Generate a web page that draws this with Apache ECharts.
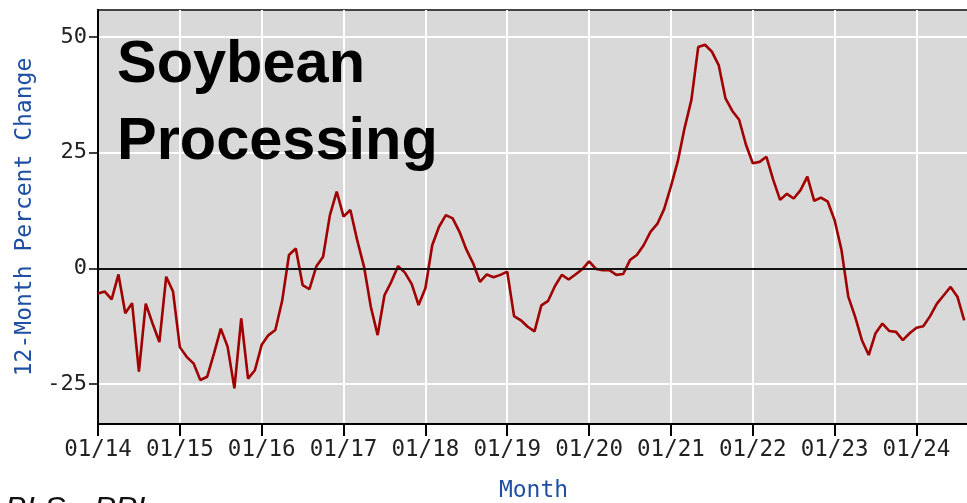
<!DOCTYPE html>
<html>
<head>
<meta charset="utf-8">
<script src="https://cdn.jsdelivr.net/npm/echarts@6/dist/echarts.min.js"></script>
<style>
  html, body { margin: 0; padding: 0; background: #fff; }
  #chart { width: 967px; height: 503px; }
</style>
</head>
<body>
<div id="chart"></div>
<script>
// 12-month percent change, monthly from 01/2014
const pctChange = [
  -5.4, -5.0, -6.7, -1.3, -9.7, -7.5, -22.3, -7.6, -11.9, -15.9, -1.8, -5.0,
  -17.0, -19.1, -20.5, -24.1, -23.4, -18.4, -13.0, -16.9, -25.9, -10.8, -23.8, -22.0,
  -16.5, -14.4, -13.3, -7.0, 2.9, 4.3, -3.6, -4.5, 0.4, 2.5, 11.5, 16.6,
  11.2, 12.6, 6.1, 0.4, -8.3, -14.4, -5.8, -2.9, 0.5, -0.9, -3.4, -7.9,
  -4.3, 5.0, 9.0, 11.5, 10.8, 7.9, 4.1, 1.1, -2.9, -1.3, -1.9, -1.4,
  -0.7, -10.3, -11.2, -12.6, -13.6, -8.0, -7.0, -3.8, -1.4, -2.4, -1.3, -0.2,
  1.5, -0.1, -0.4, -0.4, -1.4, -1.2, 1.8, 2.9, 5.0, 7.9, 9.6, 12.8,
  17.7, 23.1, 30.3, 36.4, 47.8, 48.3, 46.8, 43.9, 36.7, 34.0, 32.1, 26.7,
  22.7, 23.0, 24.1, 19.1, 14.8, 16.1, 15.1, 16.9, 19.8, 14.6, 15.3, 14.4,
  10.4, 4.0, -6.1, -10.4, -15.5, -18.7, -14.0, -11.9, -13.5, -13.7, -15.5, -14.0,
  -12.8, -12.5, -10.3, -7.6, -5.8, -4.0, -6.1, -11.2
]
const xTickLabels = ['01/14', '01/15', '01/16', '01/17', '01/18', '01/19', '01/20', '01/21', '01/22', '01/23', '01/24']
const yTicks = [-25, 0, 25, 50]

const monoFont = 'DejaVu Sans Mono'
const points = pctChange.map((v, i) => [i, v])
// January of each year, as month index
const xTicks = xTickLabels.map((_, i) => i * 12)

const chart = echarts.init(document.getElementById('chart'))
chart.setOption({
  animation: false,
  backgroundColor: '#fff',
  title: {
    text: 'Soybean\nProcessing',
    left: 117,
    top: 27,
    padding: 0,
    textStyle: {
      fontFamily: 'Liberation Sans',
      fontWeight: 'bold',
      fontSize: 59.5,
      lineHeight: 77,
      color: '#000'
    }
  },
  graphic: [
    {
      type: 'text',
      left: 5,
      top: 494,
      style: { text: 'BLS - PPI', font: 'italic 32px "Liberation Sans"', fill: '#111' }
    }
  ],
  grid: {
    left: 98,
    right: -2,
    top: 10,
    bottom: 79,
    outerBoundsMode: 'none',
    show: true,
    backgroundColor: '#d9d9d9',
    borderColor: '#444',
    borderWidth: 2
  },
  xAxis: {
    type: 'value',
    min: 0,
    max: 127.7,
    name: 'Month',
    nameLocation: 'middle',
    nameGap: 56,
    nameTextStyle: { fontFamily: monoFont, fontSize: 23, color: '#1f4fa3' },
    axisLine: { show: true, onZero: false, lineStyle: { color: '#000', width: 2 } },
    axisTick: { show: true, length: 12, customValues: xTicks, lineStyle: { color: '#000', width: 2 } },
    axisLabel: {
      customValues: xTicks,
      margin: 15,
      fontFamily: monoFont,
      fontSize: 22.5,
      color: '#222',
      formatter: v => xTickLabels[v / 12] || ''
    },
    splitLine: { show: true, lineStyle: { color: '#fff', width: 2 } }
  },
  yAxis: {
    type: 'value',
    min: -33.6,
    max: 55.8,
    name: '12-Month Percent Change',
    nameLocation: 'middle',
    nameGap: 60,
    nameTextStyle: { fontFamily: monoFont, fontSize: 23, color: '#1f4fa3' },
    axisLine: { show: true, lineStyle: { color: '#000', width: 2 } },
    axisTick: { show: true, length: 9, customValues: yTicks, lineStyle: { color: '#000', width: 1.5 } },
    axisLabel: {
      customValues: yTicks,
      margin: 11,
      fontFamily: monoFont,
      fontSize: 22,
      color: '#222'
    },
    splitLine: { show: true, lineStyle: { color: '#fff', width: 2 } }
  },
  series: [
    {
      type: 'line',
      data: points,
      showSymbol: false,
      lineStyle: { color: '#a00000', width: 2.6 },
      markLine: {
        silent: true,
        symbol: ['none', 'none'],
        label: { show: false },
        lineStyle: { color: '#111', width: 2, type: 'solid' },
        data: [{ yAxis: 0 }]
      }
    }
  ]
})
</script>
</body>
</html>
